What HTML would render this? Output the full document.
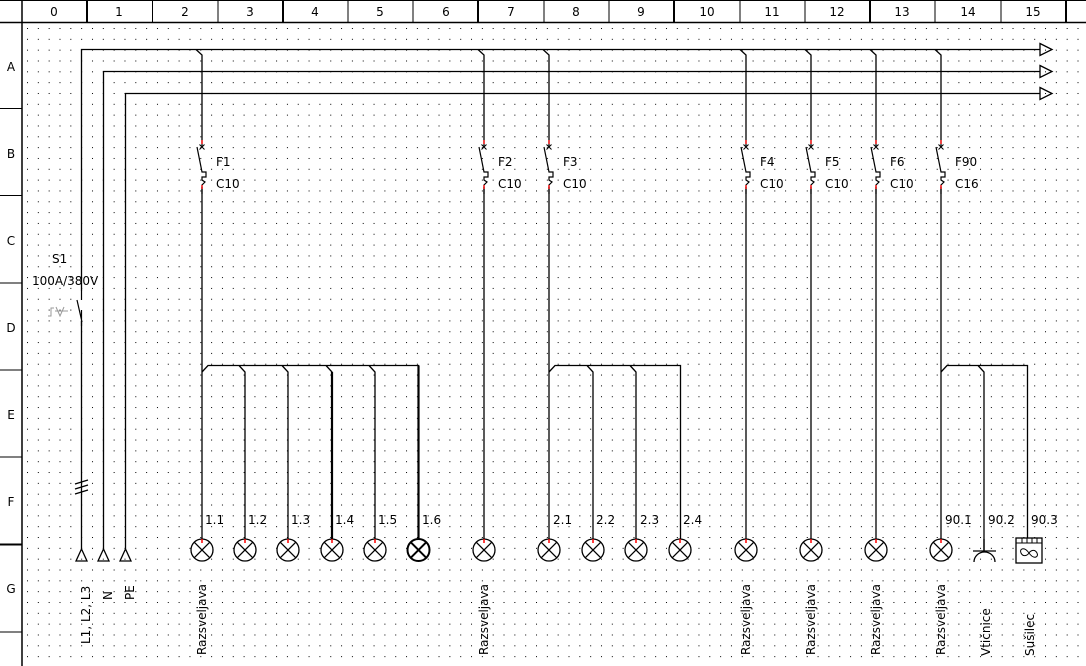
<!DOCTYPE html>
<html><head><meta charset="utf-8"><style>
body{margin:0;background:#fff}
svg{display:block;font-family:"DejaVu Sans","Liberation Sans",sans-serif}
text{font-size:12px;fill:#000}
</style></head><body>
<svg width="1086" height="666" viewBox="0 0 1086 666" xmlns="http://www.w3.org/2000/svg">
<defs>
<pattern id="dots" x="27" y="28" width="10.83" height="10.83" patternUnits="userSpaceOnUse">
<rect x="0" y="0" width="1" height="1" fill="#000"/>
</pattern>
<g id="brk">
<path d="M0 -7 V0 M-5 0 L0 25 L4 25 L4 30 L0 30 L0 33 L3 35 L0 38 L0 47" fill="none" stroke="#000" stroke-width="1.2"/>
<path d="M-2.5 -2.5 L2.5 2.5 M2.5 -2.5 L-2.5 2.5" stroke="#000" stroke-width="1"/>
<path d="M0 -7 V-3 M0 38 V42" stroke="red" stroke-width="1.3"/>
</g>
<g id="lamp"><circle cx="0" cy="0" r="11" fill="#fff" stroke="#000" stroke-width="1.3"/><path d="M-7.8 -7.8 L7.8 7.8 M7.8 -7.8 L-7.8 7.8" stroke="#000" stroke-width="1.3"/><path d="M0 -11 V-7" stroke="red" stroke-width="1.5"/></g>
</defs>
<rect x="22" y="22" width="1064" height="644" fill="url(#dots)"/>
<g stroke="#000" fill="none">
<line x1="0" y1="22.5" x2="1086" y2="22.5" stroke-width="1.5"/>
<line x1="22" y1="0" x2="22" y2="666" stroke-width="1.5"/>
<line x1="0" y1="0.5" x2="1086" y2="0.5"/>
<g stroke-width="1">
<line x1="152.5" y1="0" x2="152.5" y2="22"/><line x1="218" y1="0" x2="218" y2="22"/>
<line x1="348" y1="0" x2="348" y2="22"/><line x1="413" y1="0" x2="413" y2="22"/>
<line x1="544" y1="0" x2="544" y2="22"/><line x1="609" y1="0" x2="609" y2="22"/>
<line x1="740" y1="0" x2="740" y2="22"/><line x1="805" y1="0" x2="805" y2="22"/>
<line x1="935" y1="0" x2="935" y2="22"/><line x1="1001" y1="0" x2="1001" y2="22"/>
</g>
<g stroke-width="2">
<line x1="87" y1="0" x2="87" y2="22"/><line x1="283" y1="0" x2="283" y2="22"/>
<line x1="478" y1="0" x2="478" y2="22"/><line x1="674" y1="0" x2="674" y2="22"/>
<line x1="870" y1="0" x2="870" y2="22"/><line x1="1066" y1="0" x2="1066" y2="22"/>
</g>
<g stroke-width="1">
<line x1="0" y1="108.5" x2="22" y2="108.5"/><line x1="0" y1="195.5" x2="22" y2="195.5"/>
<line x1="0" y1="283" x2="22" y2="283"/><line x1="0" y1="370" x2="22" y2="370"/>
<line x1="0" y1="457" x2="22" y2="457"/><line x1="0" y1="632" x2="22" y2="632"/>
</g>
<line x1="0" y1="544.5" x2="22" y2="544.5" stroke-width="2"/>
</g>
<g text-anchor="middle">
<text x="54" y="16">0</text><text x="119" y="16">1</text><text x="185" y="16">2</text><text x="250" y="16">3</text><text x="315" y="16">4</text><text x="380" y="16">5</text><text x="446" y="16">6</text><text x="511" y="16">7</text><text x="576" y="16">8</text><text x="641" y="16">9</text><text x="707" y="16">10</text><text x="772" y="16">11</text><text x="837" y="16">12</text><text x="902" y="16">13</text><text x="968" y="16">14</text><text x="1033" y="16">15</text>
<text x="11" y="71">A</text><text x="11" y="158">B</text><text x="11" y="245">C</text><text x="11" y="332">D</text><text x="11" y="419">E</text><text x="11" y="506">F</text><text x="11" y="593">G</text>
</g>
<g stroke="#000" stroke-width="1.3" fill="none">
<path d="M81.5 549 V49.5 H1040"/>
<path d="M103.5 549 V71.5 H1040"/>
<path d="M125.5 549 V93.5 H1040"/>
<path d="M1040 43.5 L1052 49.5 L1040 55.5 Z M1040 65.5 L1052 71.5 L1040 77.5 Z M1040 87.5 L1052 93.5 L1040 99.5 Z"/>
<path d="M76 561 L81.5 549 L87 561 Z M98 561 L103.5 549 L109 561 Z M120 561 L125.5 549 L131 561 Z"/>
<path d="M75 484 L88 480 M75 489 L88 485 M75 494 L88 490"/>
</g>
<rect x="79" y="291" width="5" height="30" fill="#fff"/>
<path d="M81.5 291 V300 M77 300 L82 322 M81.5 310 V326" stroke="#000" stroke-width="1.2" fill="none"/>
<path d="M48 316 H51 V308 H54 M56 307 L60 316 L64 307 M55 311 H68" stroke="#999" stroke-width="1" fill="none"/>
<text x="52" y="263">S1</text><text x="32" y="285">100A/380V</text>
<g stroke="#000" stroke-width="1.3" fill="none">
<path d="M196 49.5 L202 55 V140 M202 187 V539"/>
<path d="M478 49.5 L484 55 V140 M484 187 V539"/>
<path d="M543 49.5 L549 55 V140 M549 187 V539"/>
<path d="M740 49.5 L746 55 V140 M746 187 V539"/>
<path d="M805 49.5 L811 55 V140 M811 187 V539"/>
<path d="M870 49.5 L876 55 V140 M876 187 V539"/>
<path d="M935 49.5 L941 55 V140 M941 187 V539"/>
<path d="M202 372 L208 365.5 H418.5 V539 M239 365.5 L245 372 V539 M282 365.5 L288 372 V539 M326 365.5 L332 372 V539 M369 365.5 L375 372 V539"/>
<path d="M549 372 L555 365.5 H680.5 V539 M587 365.5 L593 372 V539 M630 365.5 L636 372 V539"/>
<path d="M941 372 L947 365.5 H1027.5 V539 M978 365.5 L984 372 V551"/>
</g>
<path d="M332 372 V539 M418.5 365.5 V539" stroke="#000" stroke-width="2.2"/>
<use href="#brk" x="202" y="147"/><use href="#brk" x="484" y="147"/><use href="#brk" x="549" y="147"/><use href="#brk" x="746" y="147"/><use href="#brk" x="811" y="147"/><use href="#brk" x="876" y="147"/><use href="#brk" x="941" y="147"/>
<text x="216" y="166">F1</text><text x="216" y="188">C10</text>
<text x="498" y="166">F2</text><text x="498" y="188">C10</text>
<text x="563" y="166">F3</text><text x="563" y="188">C10</text>
<text x="760" y="166">F4</text><text x="760" y="188">C10</text>
<text x="825" y="166">F5</text><text x="825" y="188">C10</text>
<text x="890" y="166">F6</text><text x="890" y="188">C10</text>
<text x="955" y="166">F90</text><text x="955" y="188">C16</text>
<use href="#lamp" x="202" y="550"/><use href="#lamp" x="245" y="550"/><use href="#lamp" x="288" y="550"/><use href="#lamp" x="332" y="550"/><use href="#lamp" x="375" y="550"/>
<circle cx="418.5" cy="550" r="11" fill="#fff" stroke="#000" stroke-width="2"/><path d="M410.7 542.2 L426.3 557.8 M426.3 542.2 L410.7 557.8" stroke="#000" stroke-width="2"/>
<use href="#lamp" x="484" y="550"/><use href="#lamp" x="549" y="550"/><use href="#lamp" x="593" y="550"/><use href="#lamp" x="636" y="550"/><use href="#lamp" x="680" y="550"/>
<use href="#lamp" x="746" y="550"/><use href="#lamp" x="811" y="550"/><use href="#lamp" x="876" y="550"/><use href="#lamp" x="941" y="550"/>
<path d="M984 539 V551 M973 551 H996 M974 562 A10.5 10 0 0 1 995 562" stroke="#000" stroke-width="1.3" fill="none"/>
<rect x="1016" y="538" width="26" height="25" fill="#fff" stroke="#000" stroke-width="1.3"/>
<path d="M1016 543 H1042 M1022 538 V543 M1027 538 V543 M1032 538 V543 M1037 538 V543" stroke="#000" stroke-width="1"/>
<path d="M1029 553 C1024 546 1019 549 1021 553 C1023 557 1027 556 1029 553 C1031 550 1035 549 1037 553 C1039 557 1034 560 1029 553" stroke="#000" stroke-width="1" fill="none"/>
<g>
<text x="205" y="524">1.1</text><text x="248" y="524">1.2</text><text x="291" y="524">1.3</text><text x="335" y="524">1.4</text><text x="378" y="524">1.5</text><text x="422" y="524">1.6</text>
<text x="553" y="524">2.1</text><text x="596" y="524">2.2</text><text x="640" y="524">2.3</text><text x="683" y="524">2.4</text>
<text x="945" y="524">90.1</text><text x="988" y="524">90.2</text><text x="1031" y="524">90.3</text>
</g>
<g>
<text transform="translate(90,644) rotate(-90)">L1, L2, L3</text>
<text transform="translate(112,600) rotate(-90)">N</text>
<text transform="translate(134,600) rotate(-90)">PE</text>
<g style="font-size:11px">
<text transform="translate(206,655) rotate(-90)">Razsveljava</text>
<text transform="translate(488,655) rotate(-90)">Razsveljava</text>
<text transform="translate(750,655) rotate(-90)">Razsveljava</text>
<text transform="translate(815,655) rotate(-90)">Razsveljava</text>
<text transform="translate(880,655) rotate(-90)">Razsveljava</text>
<text transform="translate(945,655) rotate(-90)">Razsveljava</text>
</g>
<text transform="translate(990,656) rotate(-90)">Vtičnice</text>
<text transform="translate(1034,656) rotate(-90)">Sušilec</text>
</g>
</svg>
</body></html>
